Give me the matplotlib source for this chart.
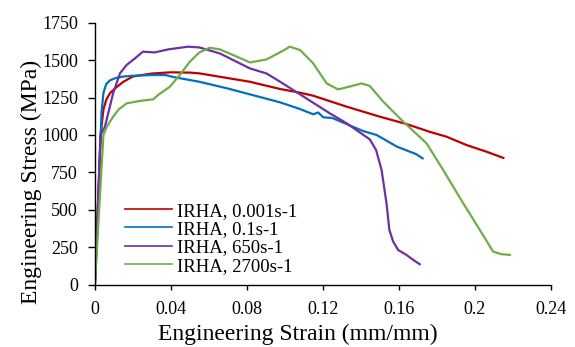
import matplotlib
matplotlib.use('Agg')
import matplotlib.pyplot as plt

plt.rcParams['font.family'] = 'Liberation Serif'

# 应力-应变曲线数据
strain_0001 = [0, 0.0015, 0.003, 0.0045, 0.006, 0.008, 0.011, 0.015, 0.02, 0.03, 0.04,
               0.05, 0.055, 0.065, 0.0816, 0.0974, 0.108, 0.1149, 0.1325, 0.15, 0.164,
               0.176, 0.185, 0.1956, 0.206, 0.215]
stress_0001 = [0, 500, 1000, 1170, 1235, 1280, 1315, 1355, 1390, 1410, 1418,
               1416, 1411, 1390, 1355, 1307, 1282, 1262, 1189, 1122, 1073,
               1022, 989, 933, 889, 847]

strain_01 = [0, 0.0015, 0.0025, 0.0035, 0.0045, 0.006, 0.008, 0.011, 0.015, 0.02, 0.03,
             0.037, 0.042, 0.055, 0.07, 0.0816, 0.0974, 0.108, 0.1149, 0.1175, 0.1202,
             0.125, 0.1325, 0.141, 0.1483, 0.159, 0.169, 0.1725]
stress_01 = [0, 400, 800, 1150, 1280, 1340, 1365, 1380, 1390, 1395, 1400,
             1400, 1385, 1355, 1310, 1271, 1218, 1173, 1138, 1150, 1118,
             1113, 1073, 1027, 1000, 922, 873, 844]

strain_650 = [0, 0.0015, 0.003, 0.0053, 0.0096, 0.0132, 0.0167, 0.0211, 0.0253, 0.0285,
              0.0316, 0.0386, 0.049, 0.055, 0.0658, 0.0816, 0.0904, 0.0974, 0.108, 0.1237,
              0.1325, 0.1447, 0.148, 0.1509, 0.1535, 0.155, 0.157, 0.1596, 0.164, 0.1675,
              0.171]
stress_650 = [0, 500, 1000, 1056, 1278, 1411, 1467, 1511, 1556, 1553,
              1551, 1571, 1589, 1584, 1544, 1444, 1410, 1356, 1271, 1144,
              1078, 971, 900, 767, 544, 367, 289, 233, 200, 167,
              138]

strain_2700 = [0, 0.002, 0.0045, 0.0065, 0.0096, 0.0125, 0.0167, 0.0237, 0.0307, 0.0333,
               0.0395, 0.0447, 0.05, 0.055, 0.0605, 0.0658, 0.0728, 0.0816, 0.0904, 0.099,
               0.1026, 0.108, 0.1149, 0.122, 0.128, 0.1325, 0.1404, 0.1447, 0.1518, 0.1623,
               0.1746, 0.1833, 0.1939, 0.2026, 0.2096, 0.214, 0.2184]
stress_2700 = [0, 450, 1000, 1060, 1122, 1170, 1211, 1227, 1238, 1267,
               1322, 1400, 1489, 1551, 1582, 1571, 1533, 1484, 1504, 1562,
               1589, 1567, 1478, 1344, 1304, 1318, 1344, 1327, 1222, 1089,
               944, 767, 544, 367, 222, 205, 200]

labels = ['IRHA, 0.001s-1', 'IRHA, 0.1s-1', 'IRHA, 650s-1', 'IRHA, 2700s-1']
colors = ['#C00000', '#0070C0', '#7030A0', '#70AD47']

x_ticks = [0, 0.04, 0.08, 0.12, 0.16, 0.2, 0.24]
x_ticklabels = ['0', '0.04', '0.08', '0.12', '0.16', '0.2', '0.24']
y_ticks = [0, 250, 500, 750, 1000, 1250, 1500, 1750]

fig = plt.figure(figsize=(5.75, 3.47), dpi=100)
ax = fig.add_axes([0.165, 0.179, 0.793, 0.756])

series = [(strain_0001, stress_0001), (strain_01, stress_01),
          (strain_650, stress_650), (strain_2700, stress_2700)]
for (xs, ys), lab, c in zip(series, labels, colors):
    ax.plot(xs, ys, color=c, linewidth=1.6, label=lab)

ax.set_xlim(0, 0.24)
ax.set_ylim(0, 1750)
ax.set_xticks(x_ticks)
ax.set_xticklabels(x_ticklabels)
ax.set_yticks(y_ticks)
ax.tick_params(axis='x', direction='out', length=3.6, width=1, labelsize=13, pad=8)
ax.tick_params(axis='y', direction='out', length=4.8, width=1, labelsize=13, pad=7.3)

for side in ['top', 'right']:
    ax.spines[side].set_visible(False)
for side in ['left', 'bottom']:
    ax.spines[side].set_linewidth(1)
    ax.spines[side].set_color('black')

ax.set_xlabel('Engineering Strain (mm/mm)', fontsize=17)
ax.set_ylabel('Engineering Stress (MPa)', fontsize=17)
ax.xaxis.set_label_coords(0.445, -0.150)
ax.yaxis.set_label_coords(-0.115, 0.392)

leg = ax.legend(loc='center left', bbox_to_anchor=(0.066, 0.176), frameon=False,
                fontsize=13.5, handlelength=2.5, handletextpad=0.3, labelspacing=0.07,
                borderpad=0, borderaxespad=0)
for ln in leg.get_lines():
    ln.set_linewidth(1.2)

fig.savefig('out.png', dpi=100, facecolor='white')
